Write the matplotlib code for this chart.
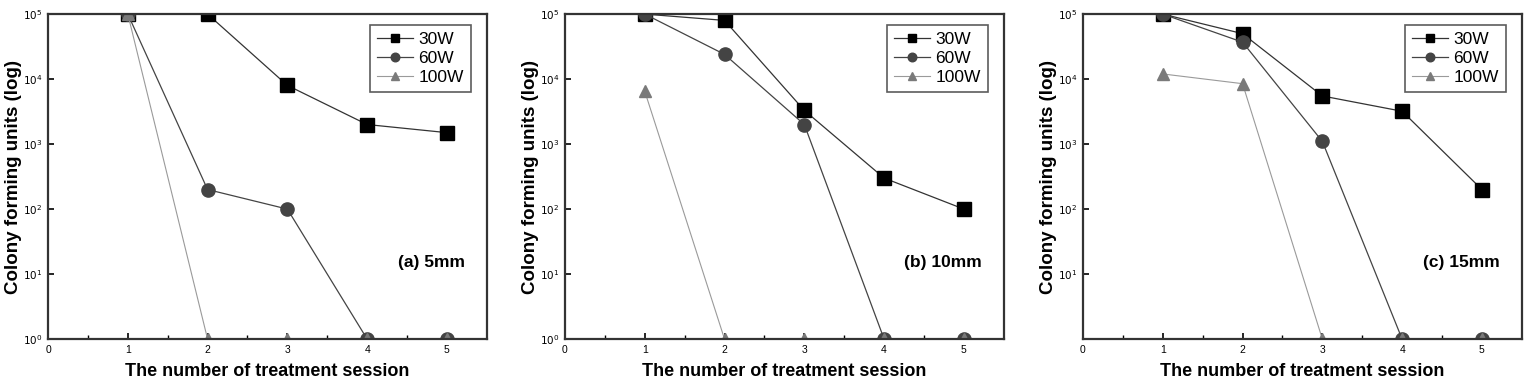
import matplotlib
matplotlib.use("Agg")
import matplotlib.pyplot as plt
import numpy as np

plt.rcParams['font.family'] = ['Liberation Sans', 'DejaVu Sans']

sessions = [1, 2, 3, 4, 5]
series_names = ['30W', '60W', '100W']
panel_labels = ['(a) 5mm', '(b) 10mm', '(c) 15mm']

# colony forming units
a_30w = [1e5, 1e5, 8e3, 2e3, 1.5e3]
a_60w = [1e5, 200, 100, 1, 1]
a_100w = [1e5, 1, 1, 1, 1]

b_30w = [1e5, 8e4, 3.3e3, 300, 100]
b_60w = [1e5, 2.4e4, 2e3, 1, 1]
b_100w = [6.5e3, 1, 1, 1, 1]

c_30w = [1e5, 5e4, 5.5e3, 3.2e3, 200]
c_60w = [1e5, 3.7e4, 1.1e3, 1, 1]
c_100w = [1.2e4, 8.5e3, 1, 1, 1]

panels = [(a_30w, a_60w, a_100w), (b_30w, b_60w, b_100w), (c_30w, c_60w, c_100w)]
ytick_sets = [[1, 10, 100, 1e3, 1e4, 1e5],
              [1, 10, 100, 1e3, 1e4, 1e5],
              [10, 100, 1e3, 1e4, 1e5]]

styles = [dict(marker='s', mfc='black', mec='black', ms=9.5, color='#333333', lw=0.9),
          dict(marker='o', mfc='#444444', mec='#444444', ms=9.5, color='#444444', lw=0.9),
          dict(marker='^', mfc='#7a7a7a', mec='#7a7a7a', ms=9, color='#9a9a9a', lw=0.8)]

fig = plt.figure(figsize=(15.29, 3.81), dpi=100)
lefts = [0.0314, 0.3695, 0.7083]

for i, data in enumerate(panels):
    ax = fig.add_axes([lefts[i], 0.110, 0.287, 0.853])
    for name, vals, st in zip(series_names, data, styles):
        ax.plot(sessions, vals, label=name, **st)
    ax.set_yscale('log')
    ax.set_ylim(1, 1e5)
    ax.set_xlim(0, 5.5)
    ax.set_xticks([0, 1, 2, 3, 4, 5])
    ax.set_xticks([0.5, 1.5, 2.5, 3.5, 4.5], minor=True)
    ax.set_yticks(ytick_sets[i])
    ax.set_yticklabels([r'$10^{%d}$' % int(np.log10(v)) for v in ytick_sets[i]])
    ax.yaxis.set_minor_locator(matplotlib.ticker.NullLocator())
    ax.tick_params(direction='in', length=4, width=1.2, labelsize=7.5, pad=4)
    ax.tick_params(which='minor', direction='in', length=3, width=1)
    for sp in ax.spines.values():
        sp.set_linewidth(1.6)
        sp.set_color('#333333')
    ax.set_xlabel('The number of treatment session', fontsize=13, fontweight='bold', labelpad=6)
    ax.set_ylabel('Colony forming units (log)', fontsize=13.5, fontweight='bold', labelpad=1)
    leg = ax.legend(loc='upper right', bbox_to_anchor=(0.9636, 0.966), borderaxespad=0,
                    fontsize=12.5, frameon=True, fancybox=False, markerscale=0.65,
                    edgecolor='#333333', handlelength=2.1,
                    handletextpad=0.3, labelspacing=0.22, borderpad=0.4)
    leg.get_frame().set_linewidth(1.2)
    ax.text(0.95, 0.237, panel_labels[i], transform=ax.transAxes, ha='right', va='center',
            fontsize=12.5, fontweight='bold')

fig.savefig('out.png', dpi=100)
